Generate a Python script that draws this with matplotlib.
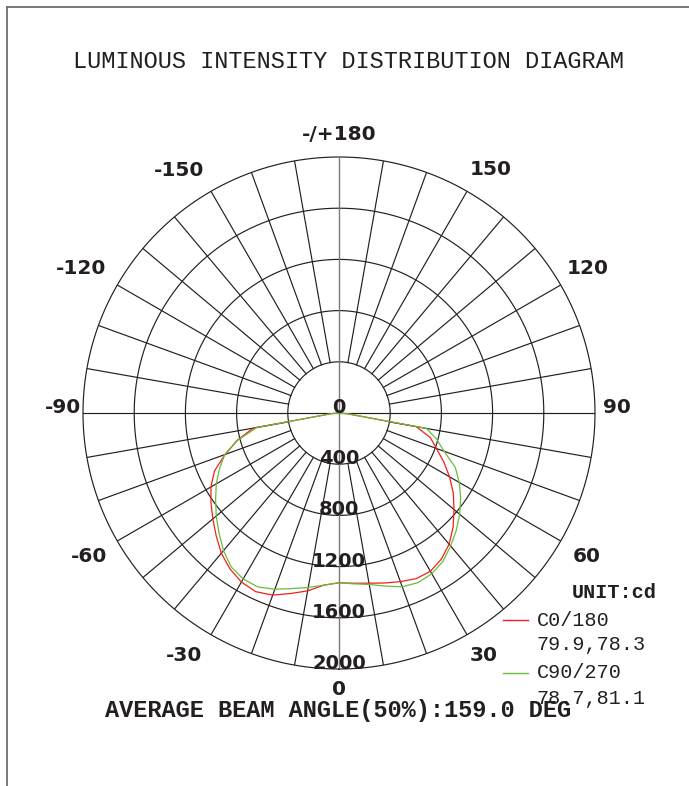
import numpy as np
import matplotlib.pyplot as plt
from matplotlib.lines import Line2D

# intensity (cd) along the C-planes, gamma -90..90 every 5 deg
front_deg = list(range(-90, 95, 5))
c0_front = [0, 60, 680, 824, 947, 1074, 1155, 1221, 1287, 1357,
            1430, 1486, 1525, 1540, 1514, 1460, 1411, 1350, 1326,
            1335, 1350, 1375, 1402, 1428, 1428, 1394, 1338, 1261, 1173,
            1090, 997, 903, 810, 738, 611, 60, 0]
c90_front = [0, 60, 651, 818, 950, 1030, 1107, 1177, 1252, 1326,
             1404, 1468, 1497, 1500, 1465, 1420, 1384, 1350, 1326,
             1340, 1360, 1400, 1445, 1462, 1450, 1415, 1357, 1296, 1231,
             1160, 1085, 1002, 873, 790, 694, 70, 0]

# back half (upward light), very small
back_deg = [95, 120, 150, 180, 210, 240, 265]
c0_back = [12, 10, 8, 8, 8, 10, 12]
c90_back = [20, 15, 12, 12, 12, 15, 20]

ring_values = [400, 800, 1200, 1600, 2000]
radial_labels = ['0', '400', '800', '1200', '1600', '2000']

ang_labels = ['0', '30', '60', '90', '120', '150', '-/+180',
              '-150', '-120', '-90', '-60', '-30']
ang_label_deg = [0, 30.9, 59.9, 91.2, 120.2, 148, 180,
                 -146.6, -119.3, -91.2, -60.1, -32.6]
ang_label_r = [2164, 2205, 2240, 2172, 2251, 2239, 2172,
               2273, 2312, 2157, 2254, 2245]

legend_names = ['C0/180', 'C90/270']
legend_angles = ['79.9,78.3', '78.7,81.1']

W, H = 689, 786
RED = '#f0201c'
GREEN = '#6cbb3c'
GRID = '#231f20'


def fx(px):
    return px / W


def fy(py):
    return 1 - py / H


fig = plt.figure(figsize=(W / 100, H / 100), dpi=100)
ax = fig.add_axes([fx(83), fy(669), 512 / W, 512 / H], projection='polar')
ax.set_theta_zero_location('S')
ax.set_ylim(0, 2000)
ax.grid(False)
ax.set_xticks([])
ax.set_yticks([])
ax.spines['polar'].set_visible(False)

# rings
full = np.linspace(0, 2 * np.pi, 721)
for r in ring_values:
    ax.plot(full, [r] * len(full), color=GRID, lw=0.85, clip_on=False)

# spokes every 10 deg, starting from the first ring
for d in range(0, 360, 10):
    if d % 90 == 0:
        continue
    t = np.deg2rad(d)
    ax.plot([t, t], [ring_values[0], ring_values[-1]], color=GRID, lw=0.85)

# main axes through the centre
ax.plot([0, 0], [0, 2000], color='#7a7a7a', lw=1.0)
ax.plot([np.pi, np.pi], [0, 2000], color='#7a7a7a', lw=1.0)
ax.plot([np.pi / 2, np.pi / 2], [0, 2000], color=GRID, lw=0.85)
ax.plot([-np.pi / 2, -np.pi / 2], [0, 2000], color=GRID, lw=0.85)

# curves
for front, back, col in [(c0_front, c0_back, RED), (c90_front, c90_back, GREEN)]:
    th = np.deg2rad(front_deg + back_deg + [270])
    rr = front + back + [front[0]]
    ax.plot(th, rr, color=col, lw=0.9)

# radial value labels
for i, lab in enumerate(radial_labels):
    r = 0 if i == 0 else ring_values[i - 1]
    ax.text(0, r, lab, ha='center', va='baseline', fontsize=14,
            fontweight='bold', family='DejaVu Sans', color=GRID)

# angle labels
for lab, d, r in zip(ang_labels, ang_label_deg, ang_label_r):
    ax.text(np.deg2rad(d), r, lab, ha='center', va='center', fontsize=14.5,
            fontweight='bold', family='DejaVu Sans', color=GRID, clip_on=False)

# texts
fig.text(fx(348), fy(62), 'LUMINOUS INTENSITY DISTRIBUTION DIAGRAM',
         ha='center', va='center', family='Liberation Mono', fontsize=17, color=GRID)
fig.text(fx(338), fy(711), 'AVERAGE BEAM ANGLE(50%):159.0 DEG',
         ha='center', va='center', family='Liberation Mono', fontsize=17,
         fontweight='bold', color=GRID)
fig.text(fx(572), fy(592), 'UNIT:cd', ha='left', va='center',
         family='Liberation Mono', fontsize=14.5, fontweight='bold', color=GRID)

for i, (name, ang, col) in enumerate(zip(legend_names, legend_angles, [RED, GREEN])):
    y0 = 620 + i * 53
    fig.add_artist(Line2D([fx(503), fx(528)], [fy(y0), fy(y0)], color=col, lw=1.0))
    fig.text(fx(537), fy(y0), name, ha='left', va='center',
             family='Liberation Mono', fontsize=14.5, color=GRID)
    fig.text(fx(537), fy(y0 + 25), ang, ha='left', va='center',
             family='Liberation Mono', fontsize=14.5, color=GRID)

# page frame (left and top edges)
fig.add_artist(Line2D([fx(7), fx(7)], [0, fy(7)], color='#6d6d6d', lw=1.3))
fig.add_artist(Line2D([fx(7), 1], [fy(7), fy(7)], color='#6d6d6d', lw=1.3))

fig.savefig('out.png', dpi=100)
